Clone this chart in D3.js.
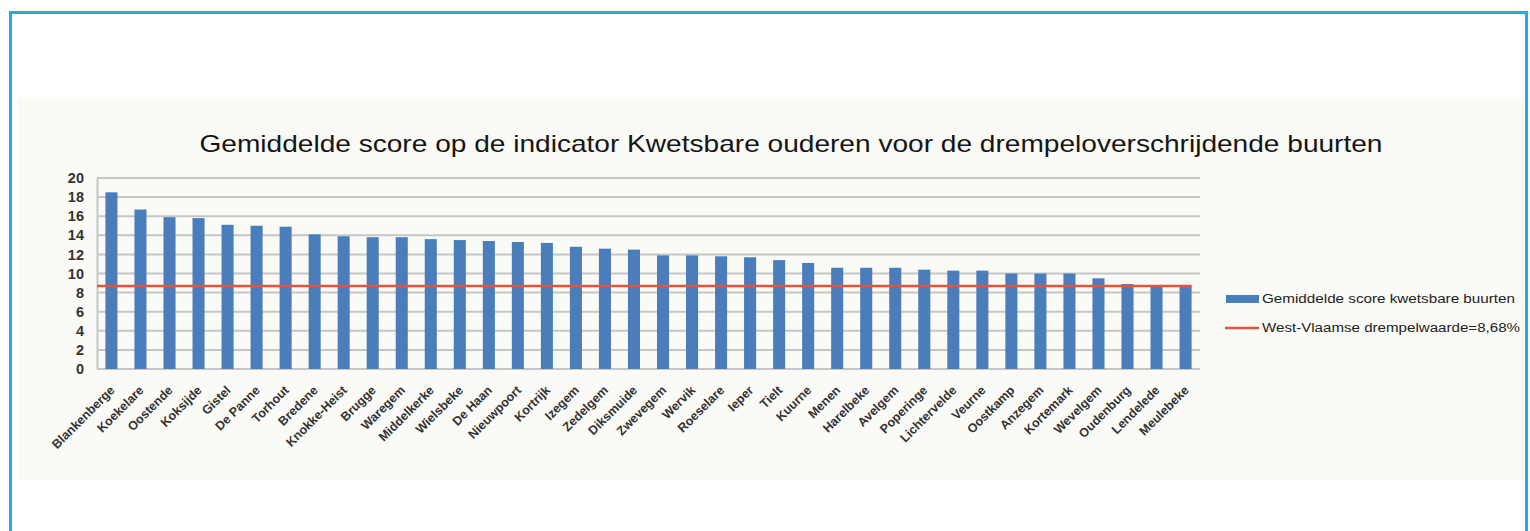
<!DOCTYPE html>
<html>
<head>
<meta charset="utf-8">
<script src="https://cdn.jsdelivr.net/npm/d3@7"></script>
<style>
  html, body { margin: 0; padding: 0; background: #ffffff; }
  svg { display: block; }
</style>
</head>
<body>
<svg id="chart" width="1530" height="531"></svg>
<script>
// Gemeenten met drempeloverschrijdende buurten
const categories = [
  "Blankenberge", "Koekelare", "Oostende", "Koksijde", "Gistel", "De Panne",
  "Torhout", "Bredene", "Knokke-Heist", "Brugge", "Waregem", "Middelkerke",
  "Wielsbeke", "De Haan", "Nieuwpoort", "Kortrijk", "Izegem", "Zedelgem",
  "Diksmuide", "Zwevegem", "Wervik", "Roeselare", "Ieper", "Tielt", "Kuurne",
  "Menen", "Harelbeke", "Avelgem", "Poperinge", "Lichtervelde", "Veurne",
  "Oostkamp", "Anzegem", "Kortemark", "Wevelgem", "Oudenburg", "Lendelede",
  "Meulebeke"
];

// Gemiddelde score kwetsbare buurten
const scores = [
  18.5, 16.7, 15.9, 15.8, 15.1, 15.0,
  14.9, 14.1, 13.9, 13.8, 13.8, 13.6,
  13.5, 13.4, 13.3, 13.2, 12.8, 12.6,
  12.5, 11.9, 11.9, 11.8, 11.7, 11.4, 11.1,
  10.6, 10.6, 10.6, 10.4, 10.3, 10.3,
  10.0, 10.0, 10.0, 9.5, 8.9, 8.7,
  8.7
];

// West-Vlaamse drempelwaarde
const threshold = 8.68;

const yTicks = [0, 2, 4, 6, 8, 10, 12, 14, 16, 18, 20];

const title = "Gemiddelde score op de indicator Kwetsbare ouderen voor de drempeloverschrijdende buurten";
const legendLabels = ["Gemiddelde score kwetsbare buurten", "West-Vlaamse drempelwaarde=8,68%"];

const barColor = "#4a7ebb";
const lineColor = "#e4543c";
const gridColor = "#c6c6c6";
const textColor = "#333333";

const svg = d3.select("#chart");

// outer frame and chart panel
svg.append("rect")
  .attr("x", 10.5).attr("y", 12.5)
  .attr("width", 1516).attr("height", 540)
  .attr("fill", "#ffffff")
  .attr("stroke", "#29a9e0").attr("stroke-width", 3);

svg.append("rect")
  .attr("x", 17).attr("y", 97)
  .attr("width", 1508).attr("height", 383)
  .attr("fill", "#fafaf7");

const plot = { left: 97, right: 1200, top: 178, bottom: 369 };

const x = d3.scaleBand()
  .domain(categories)
  .range([plot.left, plot.right])
  .paddingInner(0.585)
  .paddingOuter(0.29);

const y = d3.scaleLinear()
  .domain([0, 20])
  .range([plot.bottom, plot.top]);

// title
svg.append("text")
  .attr("x", 791).attr("y", 152)
  .attr("text-anchor", "middle")
  .attr("font-family", "Liberation Sans, Arial, sans-serif")
  .attr("font-size", 24)
  .attr("fill", "#151515")
  .attr("textLength", 1183)
  .attr("lengthAdjust", "spacingAndGlyphs")
  .text(title);

// horizontal gridlines
svg.append("g")
  .selectAll("line")
  .data(yTicks)
  .join("line")
  .attr("x1", plot.left).attr("x2", plot.right)
  .attr("y1", d => y(d)).attr("y2", d => y(d))
  .attr("stroke", gridColor)
  .attr("stroke-width", 2);

// y axis
const yAxis = svg.append("g")
  .attr("transform", `translate(${plot.left},0)`)
  .call(d3.axisLeft(y).tickValues(yTicks).tickSize(0).tickPadding(13));
yAxis.select(".domain").attr("stroke", "#c6c6c6").attr("stroke-width", 2);
yAxis.selectAll("text")
  .attr("font-family", "Liberation Sans, Arial, sans-serif")
  .attr("font-size", 14.5)
  .attr("font-weight", "bold")
  .attr("fill", textColor);

// bars
svg.append("g")
  .selectAll("rect")
  .data(categories.map((c, i) => ({ c, v: scores[i] })))
  .join("rect")
  .attr("x", d => x(d.c))
  .attr("y", d => y(d.v))
  .attr("width", x.bandwidth())
  .attr("height", d => y(0) - y(d.v))
  .attr("fill", barColor);

// threshold line
const lastCat = categories[categories.length - 1];
svg.append("line")
  .attr("x1", plot.left)
  .attr("x2", x(lastCat) + x.bandwidth())
  .attr("y1", y(threshold)).attr("y2", y(threshold))
  .attr("stroke", lineColor)
  .attr("stroke-width", 2.5);

// x axis labels, rotated
const xAxis = svg.append("g")
  .attr("transform", `translate(0,${plot.bottom})`)
  .call(d3.axisBottom(x).tickSize(0).tickPadding(0));
xAxis.select(".domain").remove();
xAxis.selectAll("text")
  .attr("font-family", "Liberation Sans, Arial, sans-serif")
  .attr("font-size", 12.5)
  .attr("font-weight", "bold")
  .attr("fill", textColor)
  .attr("text-anchor", "end")
  .attr("dy", null)
  .attr("y", 0)
  .attr("transform", "translate(4,22) rotate(-45)");

// legend
const legend = svg.append("g");
legend.append("rect")
  .attr("x", 1226).attr("y", 295)
  .attr("width", 33).attr("height", 8)
  .attr("fill", barColor);
legend.append("line")
  .attr("x1", 1225).attr("x2", 1259)
  .attr("y1", 328).attr("y2", 328)
  .attr("stroke", lineColor)
  .attr("stroke-width", 2.5);
legend.selectAll("text")
  .data(legendLabels)
  .join("text")
  .attr("x", 1262)
  .attr("y", (d, i) => 303 + i * 29)
  .attr("font-family", "Liberation Sans, Arial, sans-serif")
  .attr("font-size", 12.5)
  .attr("fill", "#222222")
  .attr("textLength", (d, i) => i === 0 ? 253 : 258)
  .attr("lengthAdjust", "spacingAndGlyphs")
  .text(d => d);
</script>
</body>
</html>
